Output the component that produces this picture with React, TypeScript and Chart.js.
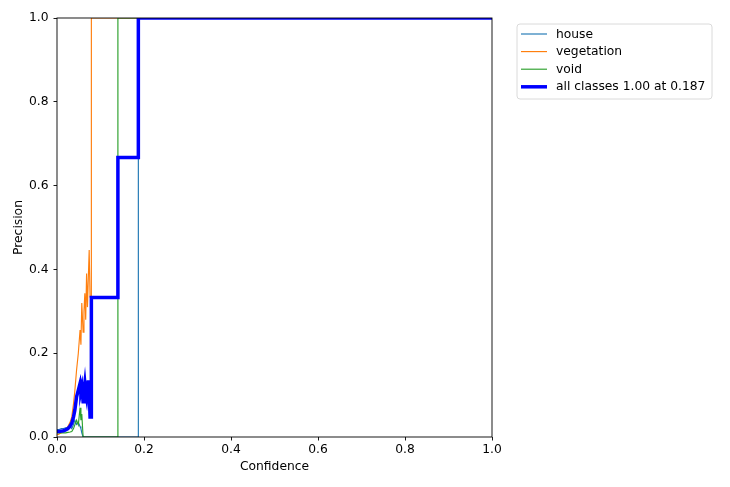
import React, { useEffect, useRef } from "react";
import { Chart, registerables } from "chart.js";

Chart.register(...registerables);

const confidence = [0, 0.005, 0.01, 0.015, 0.02, 0.025, 0.03, 0.034, 0.038, 0.041, 0.045, 0.049, 0.053, 0.055, 0.057, 0.06, 0.062, 0.064, 0.066, 0.068, 0.07, 0.072, 0.074, 0.076, 0.078, 0.079, 0.079, 0.14, 0.14, 0.187, 0.187, 1.0];
const house = [0.018, 0.018, 0.02, 0.02, 0.022, 0.022, 0.025, 0.02, 0.03, 0.04, 0.03, 0.035, 0.025, 0.02, 0.01, 0, 0, 0, 0, 0, 0, 0, 0, 0, 0, 0, 0, 0, 0, 0, 1, 1];
const vegetation = [0.005, 0.007, 0.01, 0.013, 0.018, 0.025, 0.035, 0.048, 0.08, 0.11, 0.16, 0.2, 0.255, 0.22, 0.32, 0.25, 0.3, 0.343, 0.28, 0.39, 0.31, 0.38, 0.446, 0.334, 0.33, 0.33, 1, 1, 1, 1, 1, 1];
const voidClass = [0.01, 0.01, 0.01, 0.01, 0.01, 0.011, 0.012, 0.013, 0.02, 0.029, 0.04, 0.029, 0.07, 0.04, 0.055, 0, 0, 0, 0, 0, 0, 0, 0, 0, 0, 0, 0, 0, 1, 1, 1, 1];
const allClasses = [0.013, 0.013, 0.014, 0.015, 0.017, 0.02, 0.026, 0.033, 0.048, 0.064, 0.096, 0.112, 0.128, 0.11, 0.12, 0.084, 0.11, 0.128, 0.105, 0.093, 0.115, 0.135, 0.11, 0.048, 0.048, 0.048, 0.333, 0.333, 0.667, 0.667, 1, 1];

const seriesLabels = ["house", "vegetation", "void", "all classes 1.00 at 0.187"];
const xTitle = "Confidence";
const yTitle = "Precision";

const FONT = "DejaVu Sans";
const FS = 12.3;

const colors = ["#1f77b4", "#ff7f0e", "#2ca02c", "#0000ff"];
const widths = [1.15, 1.15, 1.15, 3.5];

export default function App() {
  const ref = useRef<HTMLCanvasElement | null>(null);

  useEffect(() => {
    if (!ref.current) return;
    const series = [house, vegetation, voidClass, allClasses];

    const framePlugin = {
      id: "frame",
      afterDatasetsDraw(chart: any) {
        const { ctx, chartArea } = chart;
        ctx.save();
        ctx.strokeStyle = "#000";
        ctx.lineWidth = 0.9;
        ctx.strokeRect(chartArea.left, chartArea.top, chartArea.right - chartArea.left, chartArea.bottom - chartArea.top);
        ctx.restore();
      },
      afterDraw(chart: any) {
        const { ctx, chartArea } = chart;
        ctx.save();
        ctx.fillStyle = "#000";
        ctx.font = `${FS}px "${FONT}"`;
        ctx.textAlign = "center";
        ctx.textBaseline = "middle";
        ctx.fillText(xTitle, (chartArea.left + chartArea.right) / 2, chartArea.bottom + 30);
        ctx.translate(chartArea.left - 38, (chartArea.top + chartArea.bottom) / 2);
        ctx.rotate(-Math.PI / 2);
        ctx.fillText(yTitle, 0, 0);
        ctx.restore();

        ctx.save();
        const bx = chartArea.right + 25;
        const by = chartArea.top + 6;
        const bw = 195;
        const bh = 75;
        const r = 3;
        ctx.beginPath();
        ctx.moveTo(bx + r, by);
        ctx.lineTo(bx + bw - r, by);
        ctx.arcTo(bx + bw, by, bx + bw, by + r, r);
        ctx.lineTo(bx + bw, by + bh - r);
        ctx.arcTo(bx + bw, by + bh, bx + bw - r, by + bh, r);
        ctx.lineTo(bx + r, by + bh);
        ctx.arcTo(bx, by + bh, bx, by + bh - r, r);
        ctx.lineTo(bx, by + r);
        ctx.arcTo(bx, by, bx + r, by, r);
        ctx.closePath();
        ctx.fillStyle = "rgba(255,255,255,0.8)";
        ctx.fill();
        ctx.strokeStyle = "#d6d6d6";
        ctx.lineWidth = 0.9;
        ctx.stroke();
        ctx.font = `${FS}px "${FONT}"`;
        ctx.textAlign = "left";
        ctx.textBaseline = "middle";
        seriesLabels.forEach((lab, i) => {
          const y = by + 10 + i * 17.6;
          ctx.beginPath();
          ctx.strokeStyle = colors[i];
          ctx.lineWidth = widths[i];
          ctx.moveTo(bx + 4, y);
          ctx.lineTo(bx + 30, y);
          ctx.stroke();
          ctx.fillStyle = "#000";
          ctx.fillText(lab, bx + 39, y + 0.5);
        });
        ctx.restore();
      },
    };

    const chart = new Chart(ref.current, {
      type: "line",
      data: {
        datasets: series.map((s, i) => ({
          label: seriesLabels[i],
          data: confidence.map((c, j) => ({ x: c, y: s[j] })),
          borderColor: colors[i],
          backgroundColor: colors[i],
          borderWidth: widths[i],
          pointRadius: 0,
          tension: 0,
          fill: false,
          clip: 0,
          order: 3 - i,
        })),
      },
      options: {
        animation: false,
        responsive: true,
        maintainAspectRatio: false,
        layout: { padding: { left: 0, top: 18, right: 238, bottom: 0 } },
        plugins: {
          legend: { display: false },
          tooltip: { enabled: false },
        },
        scales: {
          x: {
            type: "linear",
            min: 0,
            max: 1,
            border: { display: false },
            grid: { drawOnChartArea: false, drawTicks: true, tickLength: 3.5, tickColor: "#000", tickWidth: 0.9 },
            ticks: {
              stepSize: 0.2,
              padding: 2,
              color: "#000",
              font: { family: FONT, size: FS },
              maxRotation: 0,
              callback: (v: any) => Number(v).toFixed(1),
            },
            afterFit: (scale: any) => {
              scale.height = 50;
            },
          },
          y: {
            type: "linear",
            min: 0,
            max: 1,
            border: { display: false },
            grid: { drawOnChartArea: false, drawTicks: true, tickLength: 3.5, tickColor: "#000", tickWidth: 0.9 },
            ticks: {
              stepSize: 0.2,
              padding: 5,
              color: "#000",
              font: { family: FONT, size: FS },
              callback: (v: any) => Number(v).toFixed(1),
            },
            afterFit: (scale: any) => {
              scale.width = 57;
            },
          },
        },
      },
      plugins: [framePlugin],
    });
    return () => chart.destroy();
  }, []);

  return (
    <div style={{ position: "absolute", left: 0, top: 0, width: 730, height: 487, background: "#fff" }}>
      <canvas ref={ref} />
    </div>
  );
}
